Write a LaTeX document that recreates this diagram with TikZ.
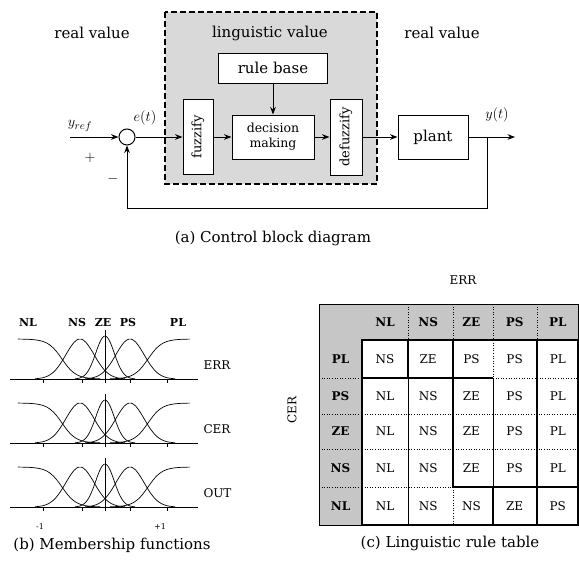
\documentclass[tikz,border=0pt]{standalone}
\usepackage{fontspec}
\setmainfont{DejaVu Serif}
\usepackage{graphicx}
\usetikzlibrary{arrows.meta}
\begin{document}
\begin{tikzpicture}[x=1pt, y=-1pt, >=Stealth,
  lbl/.style={font=\fontsize{15}{18}\selectfont},
  blk/.style={draw, line width=1pt, fill=white, inner sep=1pt},
  cell/.style={font=\fontsize{12}{14}\selectfont},
  hcell/.style={font=\fontsize{12}{14}\selectfont\bfseries},
  mlab/.style={font=\fontsize{11}{13}\selectfont\bfseries},
  dotrule/.style={line width=0.6pt, dotted},
  heavyrule/.style={line width=2.4pt}]
\useasboundingbox (0,0) rectangle (579,563);
% (a) control block diagram
\fill[gray!30] (165,12) rectangle (377,184);
\draw[dash pattern=on 6pt off 3pt, line width=1.2pt] (165,12) rectangle (377,184);
\node[lbl] at (92,33) {real value};
\node[lbl] at (270,33) {linguistic value};
\node[lbl] at (442,33) {real value};
\node[blk, lbl, minimum width=109pt, minimum height=30pt] (rule) at (273,68) {rule base};
\node[blk, minimum width=30pt, minimum height=75pt] (fuzz) at (198,137) {\rotatebox{90}{\fontsize{13}{15}\selectfont fuzzify}};
\node[blk, align=center, font=\fontsize{12.5}{15}\selectfont, minimum width=82pt, minimum height=44pt] (dec) at (273,137) {decision\\making};
\node[blk, minimum width=32pt, minimum height=76pt] (defuz) at (346,137) {\rotatebox{90}{\fontsize{13}{15}\selectfont defuzzify}};
\node[blk, lbl, minimum width=70pt, minimum height=44pt] (plant) at (433,137) {plant};
\node[draw, line width=1pt, circle, minimum size=16pt, inner sep=0pt] (sum) at (127,137) {};
\coordinate (yin) at (70,137);
\coordinate (yout) at (515,137);
\coordinate (br) at (487,137);
\coordinate (fb) at (487,208);
\draw[line width=1pt, ->] (yin) -- (sum);
\draw[line width=1pt, ->] (sum) -- (fuzz);
\draw[line width=1pt, ->] (fuzz) -- (dec);
\draw[line width=1pt, ->] (rule) -- (dec);
\draw[line width=1pt, ->] (dec) -- (defuz);
\draw[line width=1pt, ->] (defuz) -- (plant);
\draw[line width=1pt, ->] (plant) -- (yout);
\draw[line width=1pt, ->] (br) -- (fb) -| (sum);
\node[lbl] at (80,126) {$y_{ref}$};
\node[lbl] at (145,118) {$e(t)$};
\node[lbl] at (497,115) {$y(t)$};
\node[lbl] at (90,158) {$+$};
\node[lbl] at (113,179) {$-$};
\node[lbl] at (273,238) {(a) Control block diagram};
% (b) membership functions
\foreach \n/\x in {NL/28,NS/77,ZE/103,PS/128,PL/178}
  \node[mlab] at (\x,322) {\n};
\foreach \b/\lab in {379/ERR,443/CER,507/OUT}{
  \draw[line width=0.8pt] (10,\b) -- (198,\b);
  \draw[line width=0.8pt] (105,\b+4) -- (105,\b-49);
  \foreach \t in {43,82,130,167} \draw (\t,\b) -- (\t,\b+4);
  \draw[line width=0.7pt] plot[domain=18:100, samples=40, smooth] (\x,{\b-40/(1+exp((\x-62)/7))});
  \draw[line width=0.7pt] plot[domain=35:125, samples=40, smooth] (\x,{\b-40*exp(-((\x-80)/20)^2)});
  \draw[line width=0.7pt] plot[domain=75:135, samples=40, smooth] (\x,{\b-43*exp(-((\x-105)/13)^2)});
  \draw[line width=0.7pt] plot[domain=85:175, samples=40, smooth] (\x,{\b-40*exp(-((\x-130)/20)^2)});
  \draw[line width=0.7pt] plot[domain=110:190, samples=40, smooth] (\x,{\b-40/(1+exp(-(\x-148)/7))});
  \node[cell, anchor=west] at (200,\b-14) {\lab};
}
\node[font=\fontsize{8}{9}\selectfont] at (40,527) {-1};
\node[font=\fontsize{8}{9}\selectfont] at (160,527) {+1};
\node[lbl] at (112,545) {(b) Membership functions};
% (c) rule table
\fill[gray!45] (319,304) rectangle (578,340) (319,340) rectangle (362,525);
\draw[line width=0.6pt] (319,304) rectangle (578,525);
\foreach \x in {408,453,493,537} \draw[dotrule] (\x,304) -- (\x,340);
\foreach \y in {378,414,449,487} \draw[dotrule] (319,\y) -- (362,\y);
\draw[dotrule] (493,378) -- (578,378) (362,414) -- (578,414) (362,449) -- (578,449)
  (362,487) -- (453,487) (453,487) -- (453,525) (493,340) -- (493,378);
\draw[line width=0.6pt] (408,378) -- (408,525) (493,378) -- (493,487);
\draw[heavyrule] (362,340) rectangle (578,525);
\draw[heavyrule] (408,340) -- (408,378) (362,378) -- (493,378) (453,340) -- (453,487) -- (578,487)
  (537,340) -- (537,525) (493,487) -- (493,525);
\foreach \n [count=\i] in {NL,NS,ZE,PS,PL}
  \node[hcell] at (341.8+43.2*\i,322) {\n};
\foreach \n/\y in {PL/359,PS/396,ZE/431.5,NS/468,NL/506}
  \node[hcell] at (340.5,\y) {\n};
\foreach \y/\row in {359/{NS,ZE,PS,PS,PL},396/{NL,NS,ZE,PS,PL},431.5/{NL,NS,ZE,PS,PL},468/{NL,NS,ZE,PS,PL},506/{NL,NS,NS,ZE,PS}}
  \foreach \n [count=\i] in \row
    \node[cell] at (341.8+43.2*\i,\y) {\n};
\node[cell] at (463,280) {ERR};
\node[cell, rotate=90] at (292,410) {CER};
\node[lbl] at (450,543) {(c) Linguistic rule table};
\end{tikzpicture}
\end{document}
